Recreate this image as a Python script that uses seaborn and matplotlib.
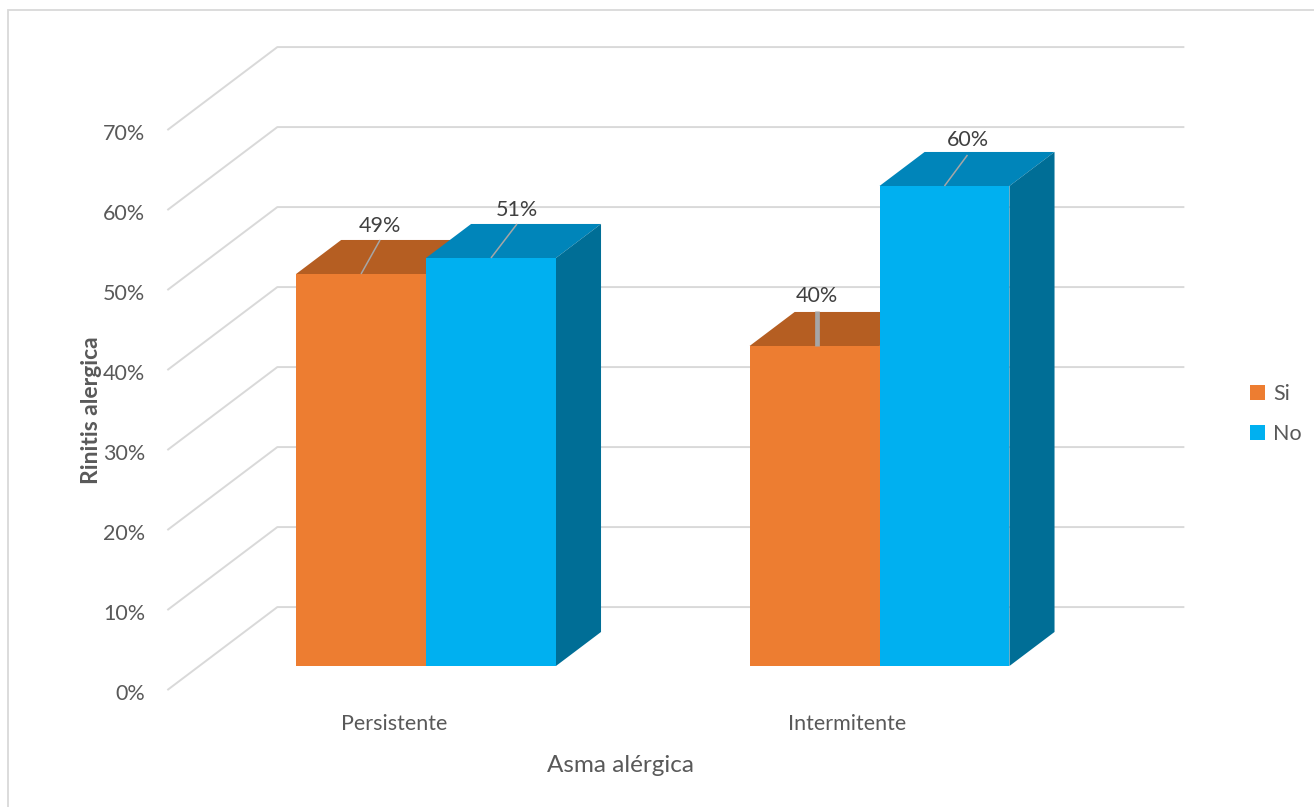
import matplotlib
matplotlib.use('Agg')
import matplotlib.pyplot as plt
import matplotlib.colors as mcolors
import numpy as np
import pandas as pd
import seaborn as sns
from matplotlib.patches import Polygon, Rectangle, Patch

# ---------------- data ----------------
categories = ['Persistente', 'Intermitente']
series = ['Si', 'No']
si_values = [49, 40]
no_values = [51, 60]
y_ticks = [0, 10, 20, 30, 40, 50, 60, 70]
x_title = 'Asma alérgica'
y_title = 'Rinitis alergica'

df = pd.DataFrame({
    'cat': categories * 2,
    'serie': ['Si'] * len(categories) + ['No'] * len(categories),
    'val': si_values + no_values,
})

# ---------------- styles / layout ----------------
W, H = 1314, 807
front_color = {'Si': '#ED7D31', 'No': '#00B0F0'}
top_color = {'Si': '#B55E22', 'No': '#0085BA'}
side_color = {'Si': '#9A4F1C', 'No': '#006E96'}
grid_color = '#D9D9D9'
text_color = '#595959'
label_color = '#404040'
leader_color = '#A6A6A6'

px_x = 453.5      # pixels per category unit (bar plane)
px_y = 8.0        # pixels per percent
x0_px = 426.0     # pixel x of category 0 on bar front plane
y0_px = 666.0     # pixel y (from top) of value 0 on bar front plane
depth_px = (110.0, 83.0)   # projection of full depth (right, up)
z_front, z_back = 0.29, 0.70   # bar depth extent (0 = front wall, 1 = back wall)

# leader line top offsets (px) from each bar's front-top centre, and line widths
leader_offsets = {('Si', 0): (19, 34), ('No', 0): (26, 34),
                  ('Si', 1): (0, 35), ('No', 1): (23, 31)}
leader_shift = {('Si', 0): 0, ('No', 0): 0, ('Si', 1): 2, ('No', 1): 0}
leader_widths = {('Si', 0): 1.1, ('No', 0): 1.1, ('Si', 1): 3.4, ('No', 1): 1.1}

sns.set_theme(style='white')
plt.rcParams['font.family'] = ['Lato', 'DejaVu Sans']

fig = plt.figure(figsize=(W / 100, H / 100), dpi=100)
ax = fig.add_axes([0, 0, 1, 1])


def proj(x, y, z):
    """Map a 3D point (category x, value y, depth z) to axes data coords."""
    return (x + (z - z_front) * depth_px[0] / px_x,
            y + (z - z_front) * depth_px[1] / px_y)


def px_off(dx, dy):
    return dx / px_x, dy / px_y


# ---------------- bars (front faces) ----------------
sns.barplot(data=df, x='cat', y='val', hue='serie', order=categories,
            hue_order=series, palette=front_color, width=0.573, saturation=1,
            linewidth=0, errorbar=None, legend=False, ax=ax)

ax.set_xlim(-x0_px / px_x, (W - x0_px) / px_x)
ax.set_ylim(-(H - y0_px) / px_y, y0_px / px_y)
ax.axis('off')

xmin, xmax = -0.5, len(categories) - 0.5

# ---------------- walls gridlines ----------------
for v in y_ticks:
    pts = [proj(xmin, v, 0), proj(xmin, v, 1), proj(xmax, v, 1)]
    ax.plot([p[0] for p in pts], [p[1] for p in pts], color=grid_color,
            lw=1.4, zorder=1, solid_capstyle='butt')
    tx, ty = proj(xmin, v, 0)
    ox, oy = px_off(-22, -4)
    ax.text(tx + ox, ty + oy, f'{v}%', ha='right', va='center',
            fontsize=15.5, color=text_color, zorder=5)

# ---------------- 3D faces ----------------
hex2serie = {mcolors.to_hex(c).lower(): s for s, c in front_color.items()}
bars = []
for p in ax.patches:
    s = hex2serie.get(mcolors.to_hex(p.get_facecolor()).lower())
    if s is None:
        continue
    bars.append((p.get_x(), p, s))
bars.sort(key=lambda b: b[0])

for rank, (bx, p, s) in enumerate(bars):
    x0 = p.get_x()
    x1 = x0 + p.get_width()
    h = p.get_height()
    zo = 3 + 2 * rank
    top = [proj(x0, h, z_front), proj(x1, h, z_front),
           proj(x1, h, z_back), proj(x0, h, z_back)]
    side = [proj(x1, 0, z_front), proj(x1, h, z_front),
            proj(x1, h, z_back), proj(x1, 0, z_back)]
    ax.add_patch(Polygon(top, closed=True, facecolor=top_color[s],
                         edgecolor='none', zorder=zo))
    ax.add_patch(Polygon(side, closed=True, facecolor=side_color[s],
                         edgecolor='none', zorder=zo))
    p.set_zorder(zo + 1)

    ci = int(round((x0 + x1) / 2))
    key = (s, ci)
    cx = (x0 + x1) / 2 + px_off(leader_shift[key], 0)[0]
    odx, ody = leader_offsets[key]
    lx, ly = px_off(odx, ody)
    ax.plot([cx, cx + lx], [h, h + ly], color=leader_color,
            lw=leader_widths[key], zorder=30, solid_capstyle='butt')
    tdx, tdy = px_off(0, 14.5)
    ax.text(cx + lx, h + ly + tdy, f'{h:.0f}%', ha='center', va='center',
            fontsize=15.5, color=label_color, zorder=31)

# ---------------- category labels & titles ----------------
for i, c in enumerate(categories):
    tx, ty = proj(i, 0, 0)
    ox, oy = px_off(0, -34)
    ax.text(tx + ox, ty + oy, c, ha='center', va='center',
            fontsize=15.5, color=text_color)

tx, ty = proj((xmin + xmax) / 2, 0, 0)
ox, oy = px_off(0, -75)
ax.text(tx + ox, ty + oy, x_title, ha='center', va='center',
        fontsize=17.5, color=text_color)

tx, ty = proj(xmin, (y_ticks[0] + y_ticks[-1]) / 2, 0)
ox, oy = px_off(-76, 0)
ax.text(tx + ox, ty + oy, y_title, ha='center', va='center', rotation=90,
        fontsize=16.5, fontweight='bold', color=text_color)

# ---------------- legend ----------------
handles = [Patch(facecolor=front_color[s], edgecolor='none') for s in series]
ax.legend(handles, series, loc='center left',
          bbox_to_anchor=(1250 / W, 1 - 414 / H), bbox_transform=fig.transFigure,
          frameon=False, handlelength=0.68, handleheight=0.68,
          handletextpad=0.4, labelspacing=0.9, fontsize=15.5,
          labelcolor=text_color, borderpad=0, borderaxespad=0)

# ---------------- chart border ----------------
fig.patches.append(Rectangle((8 / W, -0.05), 1.2, (H - 10) / H + 0.05,
                             transform=fig.transFigure, fill=False,
                             edgecolor=grid_color, lw=1.3, zorder=0))

fig.savefig('out.png', dpi=100)
